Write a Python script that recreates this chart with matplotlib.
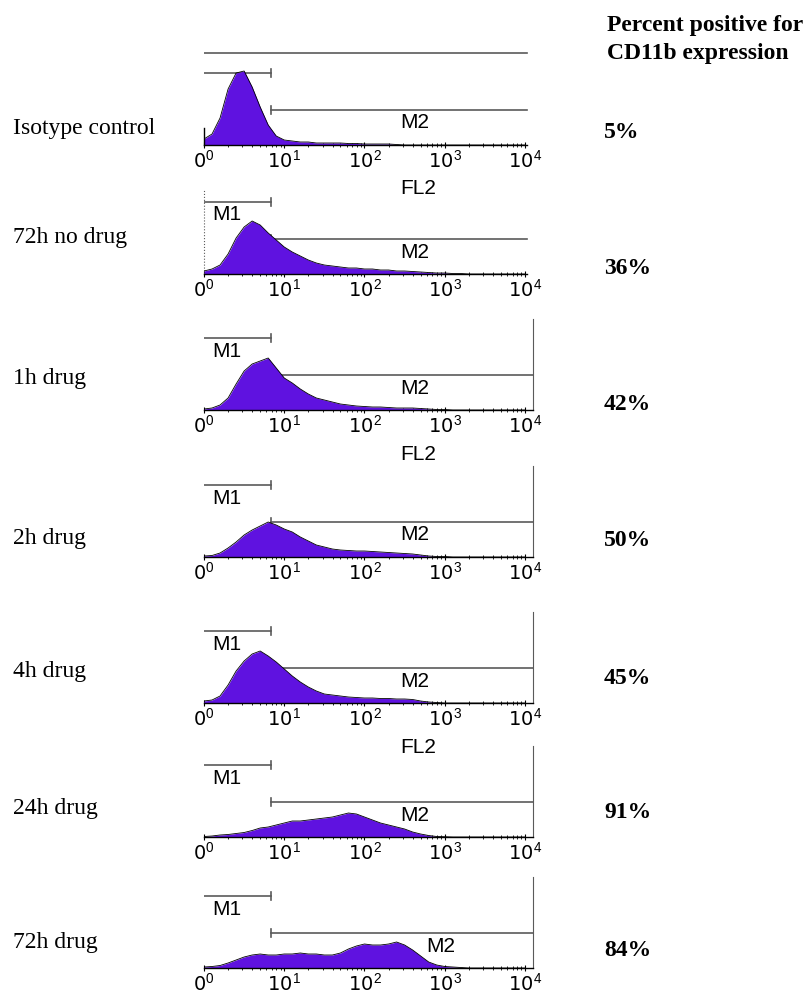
import numpy as np
import matplotlib.pyplot as plt
from matplotlib.ticker import LogLocator, NullFormatter

plt.rcParams['mathtext.fontset'] = 'custom'
plt.rcParams['mathtext.rm'] = 'Liberation Sans'

# -------- data --------
# channel positions in log10(FL2) units, one every 0.1 decade
channel_log = np.round(np.arange(0, 4.01, 0.1), 1)

samples = ["Isotype control", "72h no drug", "1h drug", "2h drug",
           "4h drug", "24h drug", "72h drug"]
percent_positive = ["5%", "36%", "42%", "50%", "45%", "91%", "84%"]

# histogram counts (arbitrary units) per channel
counts_isotype = [6, 11, 27, 56, 72, 74, 58, 38, 20, 9, 5, 4, 3, 3, 2, 2, 2, 2,
                  1.5, 1.5, 1, 1, 1, 1, 0.5, 0, 0, 0, 0, 0, 0, 0, 0, 0, 0, 0,
                  0, 0, 0, 0, 0]
counts_72h_nodrug = [3, 5, 9, 20, 36, 47, 53, 49, 41, 34, 27, 22, 18, 14, 11, 9,
                     8, 7, 6, 6, 5, 5, 4, 4, 3, 3, 2.5, 2, 1.5, 1, 1, 0.5, 0.5,
                     0, 0, 0, 0, 0, 0, 0, 0]
counts_1h = [1, 2, 5, 12, 26, 39, 46, 49, 52, 42, 32, 27, 21, 16, 12, 10, 8, 6,
             5, 4, 3.5, 3, 3, 2.5, 2, 2, 2, 1.5, 1, 0.5, 0.5, 0, 0, 0, 0, 0, 0,
             0, 0, 0, 0]
counts_2h = [1, 1.5, 4, 9, 15, 22, 27, 31, 35, 32, 28, 25, 20, 16, 12, 10, 8, 7,
             6.5, 6, 6, 5.5, 5, 4.5, 4, 3.5, 3, 2, 1, 0.5, 0.5, 0, 0, 0, 0, 0,
             0, 0, 0, 0, 0]
counts_4h = [2, 3, 7, 18, 32, 42, 49, 52, 47, 41, 34, 27, 21, 16, 12, 9, 8, 7,
             6, 5.5, 5, 5, 4.5, 4.5, 4, 4, 3.5, 2, 1, 0.5, 0, 0, 0, 0, 0, 0, 0,
             0, 0, 0, 0]
counts_24h = [0.5, 1, 2, 2.5, 3.5, 4.5, 6.5, 9, 10, 12, 14, 16, 16, 17, 18, 19,
              20, 22, 24, 23, 20, 17, 14, 12, 10, 8, 5, 3, 1.5, 0.5, 0.3, 0, 0,
              0, 0, 0, 0, 0, 0, 0, 0]
counts_72h = [1, 1.5, 2.5, 5, 8, 11, 13, 14, 13, 13, 14, 14, 15, 14, 14, 13, 13,
              15, 19, 22, 24, 23, 23, 24, 26, 23, 18, 12, 6, 3, 1.5, 1, 0.5, 0,
              0, 0, 0, 0, 0, 0, 0]
all_counts = [counts_isotype, counts_72h_nodrug, counts_1h, counts_2h,
              counts_4h, counts_24h, counts_72h]

m1_gate = (1, 6.8)
m2_gate = (6.8, 10 ** 4)

# -------- layout (pixels) --------
W, H = 807, 996
baselines = [145, 274, 410, 557, 703, 837, 968]
label_y = [128, 237, 378, 538, 672, 808, 942]
pct_y = [133, 268, 405, 541, 678, 812, 950]
m2_label_log = [2.63, 2.63, 2.63, 2.63, 2.63, 2.63, 2.95]
fl2_under = [0, 2, 4]

purple = '#5f12e0'
gate_col = '#5a5a5a'
sans = 'Liberation Sans'
serif = 'Liberation Serif'

fig = plt.figure(figsize=(W / 100, H / 100), dpi=100)

x = 10 ** channel_log
for i, counts in enumerate(all_counts):
    base = baselines[i]
    ax = fig.add_axes([204 / W, (H - base) / H, (533 - 204) / W, 95 / H])
    ax.set_xscale('log')
    ax.set_xlim(1, 10 ** 4.1)
    ax.set_ylim(0, 95)
    ax.patch.set_alpha(0)

    ax.fill_between(x, counts, color=purple, lw=0, zorder=2)
    ax.plot(x, counts, color='black', lw=0.6, zorder=3)

    # spines
    for s in ['top', 'left', 'right']:
        ax.spines[s].set_visible(False)
    ax.spines['bottom'].set_linewidth(1.0)
    if i < 2:
        ax.spines['bottom'].set_bounds(1, 10 ** 4.03)
        gate_end = 10 ** 4.03
    else:
        ax.spines['right'].set_visible(True)
        ax.spines['right'].set_color(gate_col)
        ax.spines['right'].set_bounds(0, 91)
        gate_end = 10 ** 4.1
    if i == 0:
        ax.plot([1, 1], [0, 17], color='black', lw=1.0, clip_on=False)
        ax.plot([1, gate_end], [92, 92], color=gate_col, lw=1.2)
    if i == 1:
        ax.plot([1, 1], [0, 84], color=gate_col, lw=0.8, ls=':', clip_on=False)

    # gates
    ax.plot([m1_gate[0], m1_gate[1]], [72, 72], color=gate_col, lw=1.2, zorder=1)
    ax.plot([m1_gate[1], m1_gate[1]], [68, 76], color=gate_col, lw=1.2, zorder=1)
    ax.plot([m2_gate[0], gate_end], [35, 35], color=gate_col, lw=1.2, zorder=1)
    ax.plot([m2_gate[0], m2_gate[0]], [31, 39], color=gate_col, lw=1.2, zorder=1)
    if i > 0:
        ax.text(10 ** 0.28, 59, 'M1', ha='center', va='center',
                fontsize=15, family=sans, zorder=4)
    ax.text(10 ** m2_label_log[i], 22, 'M2', ha='center', va='center',
            fontsize=15, family=sans, zorder=4)

    # ticks
    ax.set_yticks([])
    ax.set_xticks([1, 10, 100, 1000, 10000])
    ax.set_xticklabels(['0$^0$', '10$^1$', '10$^2$', '10$^3$', '10$^4$'],
                       fontsize=14)
    ax.xaxis.set_minor_locator(LogLocator(base=10, subs=np.arange(2, 10), numticks=20))
    ax.xaxis.set_minor_formatter(NullFormatter())
    ax.tick_params(axis='x', which='major', direction='inout', length=5,
                   width=0.8, pad=0.5)
    ax.tick_params(axis='x', which='minor', direction='inout', length=3,
                   width=0.6)

    if i in fl2_under:
        fig.text(418 / W, 1 - (base + 44) / H, 'FL2', ha='center', va='center',
                 fontsize=15, family=sans)

    fig.text(13 / W, 1 - label_y[i] / H, samples[i], ha='left', va='center',
             fontsize=17, family=serif)
    fig.text(604 / W, 1 - pct_y[i] / H, percent_positive[i], ha='left',
             va='center', fontsize=17, family=serif, fontweight='bold')

fig.text(607 / W, 1 - 25 / H, 'Percent positive for', ha='left', va='center',
         fontsize=17, family=serif, fontweight='bold')
fig.text(607 / W, 1 - 53 / H, 'CD11b expression', ha='left', va='center',
         fontsize=17, family=serif, fontweight='bold')

fig.savefig('out.png', dpi=100)
